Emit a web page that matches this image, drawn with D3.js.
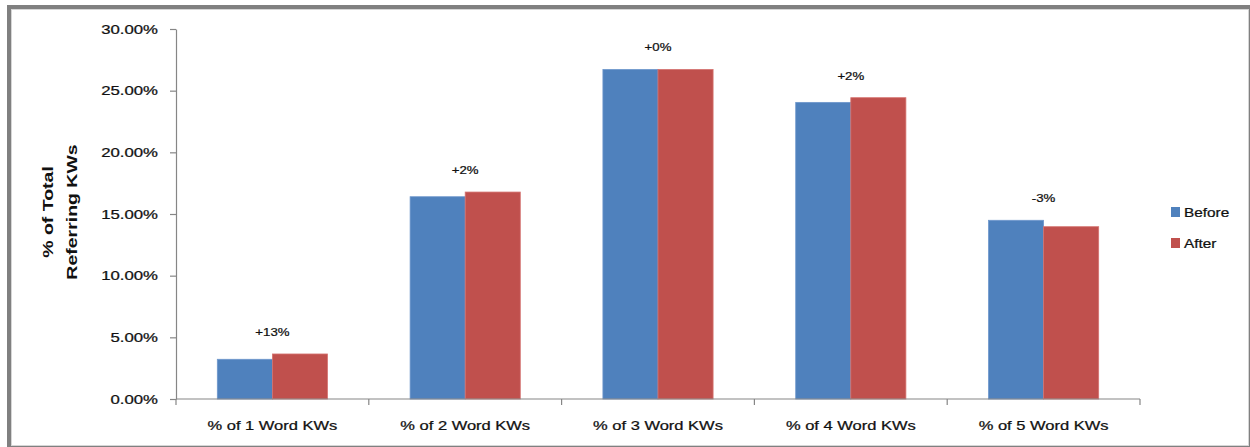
<!DOCTYPE html>
<html>
<head>
<meta charset="utf-8">
<script src="https://cdn.jsdelivr.net/npm/d3@7"></script>
<style>
  html, body { margin: 0; padding: 0; background: #fff; }
  svg { display: block; }
  text { font-family: "Liberation Sans", Arial, sans-serif; fill: #111; stroke: #111; stroke-width: 0.25px; }
  text.bold { stroke-width: 0; }
</style>
</head>
<body>
<svg id="chart" width="1250" height="447"></svg>
<script>
// ---- data ----
const categories = ["% of 1 Word KWs", "% of 2 Word KWs", "% of 3 Word KWs", "% of 4 Word KWs", "% of 5 Word KWs"];
const seriesNames = ["Before", "After"];
const beforeValues = [0.0322, 0.1640, 0.2672, 0.2405, 0.1449];
const afterValues  = [0.0365, 0.1678, 0.2672, 0.2443, 0.1397];
const changeLabels = ["+13%", "+2%", "+0%", "+2%", "-3%"];
const yTicks = [0, 0.05, 0.10, 0.15, 0.20, 0.25, 0.30];
const yTitleLines = ["% of Total", "Referring KWs"];
const colors = ["#4F81BD", "#C0504D"];
const strokeColors = ["#6E97CC", "#D57370"];

const svg = d3.select("#chart");

// ---- frame ----
svg.append("rect").attr("x", 7).attr("y", 5).attr("width", 1250 - 7).attr("height", 447 - 5).attr("fill", "#808080");
svg.append("rect").attr("x", 11).attr("y", 9).attr("width", 1249 - 11).attr("height", 446 - 9).attr("fill", "#d6d6d6");
svg.append("rect").attr("x", 12).attr("y", 10).attr("width", 1248 - 12).attr("height", 445 - 10).attr("fill", "#ffffff");

// ---- scales ----
const plotLeft = 176, plotRight = 1140, plotTop = 29, plotBottom = 399;
const x = d3.scaleBand().domain(categories).range([plotLeft, plotRight])
  .paddingInner(1.5 / 3.5).paddingOuter(0.75 / 3.5);
const xs = d3.scaleBand().domain(seriesNames).range([0, x.bandwidth()]);
const y = d3.scaleLinear().domain([0, 0.30]).range([plotBottom, plotTop]);

const rows = categories.map((c, i) => ({ cat: c, vals: [beforeValues[i], afterValues[i]], label: changeLabels[i] }));

// ---- bars ----
const groups = svg.append("g").selectAll("g").data(rows).join("g")
  .attr("transform", d => `translate(${x(d.cat)},0)`);
groups.selectAll("rect").data(d => d.vals.map((v, j) => ({ v, s: seriesNames[j], j })))
  .join("rect")
  .attr("x", d => xs(d.s))
  .attr("y", d => y(d.v))
  .attr("width", xs.bandwidth())
  .attr("height", d => y(0) - y(d.v))
  .attr("fill", d => colors[d.j])
  .attr("stroke", d => strokeColors[d.j])
  .attr("stroke-width", 0.8);

// ---- y axis ----
const yAxis = d3.axisLeft(y).tickValues(yTicks).tickFormat("").tickSize(6).tickSizeOuter(0);
const ya = svg.append("g").attr("transform", `translate(${plotLeft},0)`).call(yAxis);
ya.selectAll("path, line").attr("stroke", "#868686").attr("stroke-width", 1.2);

const fmt = d3.format(".2%");
svg.append("g").selectAll("text").data(yTicks).join("text")
  .attr("transform", d => `translate(158,${y(d)}) scale(1.34,1)`)
  .attr("text-anchor", "end")
  .attr("dy", "0.36em")
  .style("font-size", "12.5px")
  .text(d => fmt(d));

// ---- x axis ----
const xa = svg.append("g").attr("transform", `translate(0,${plotBottom})`);
xa.append("line").attr("x1", plotLeft).attr("x2", plotRight).attr("y1", 0).attr("y2", 0)
  .attr("stroke", "#868686").attr("stroke-width", 1.2);
const boundaries = categories.map(c => x(c) - x.step() * x.paddingOuter()).concat([plotRight]);
xa.selectAll("line.tick").data(boundaries).join("line").attr("class", "tick")
  .attr("x1", d => d).attr("x2", d => d).attr("y1", 0).attr("y2", 6)
  .attr("stroke", "#868686").attr("stroke-width", 1.2);

svg.append("g").selectAll("text").data(categories).join("text")
  .attr("transform", d => `translate(${x(d) + x.bandwidth() / 2},430) scale(1.32,1)`)
  .attr("text-anchor", "middle")
  .style("font-size", "12.5px")
  .text(d => d);

// ---- change labels ----
svg.append("g").selectAll("text").data(rows).join("text")
  .attr("transform", d => `translate(${x(d.cat) + x.bandwidth() / 2},${y(d3.max(d.vals)) - 18}) scale(1.15,1)`)
  .attr("text-anchor", "middle")
  .style("font-size", "11.5px")
  .text(d => d.label);

// ---- y title ----
svg.append("g").selectAll("text").data(yTitleLines).join("text")
  .attr("class", "bold")
  .attr("transform", (d, i) => `translate(${53 + i * 24},212) rotate(-90) scale(1.3,1)`)
  .attr("text-anchor", "middle")
  .style("font-size", "15px")
  .style("font-weight", "bold")
  .text(d => d);

// ---- legend ----
const lg = svg.append("g").selectAll("g").data(seriesNames).join("g")
  .attr("transform", (d, i) => `translate(1171,${207 + i * 31})`);
lg.append("rect").attr("width", 9).attr("height", 10).attr("fill", (d, i) => colors[i]);
lg.append("text")
  .attr("transform", "translate(13,10) scale(1.18,1)")
  .style("font-size", "13px")
  .text(d => d);
</script>
</body>
</html>
